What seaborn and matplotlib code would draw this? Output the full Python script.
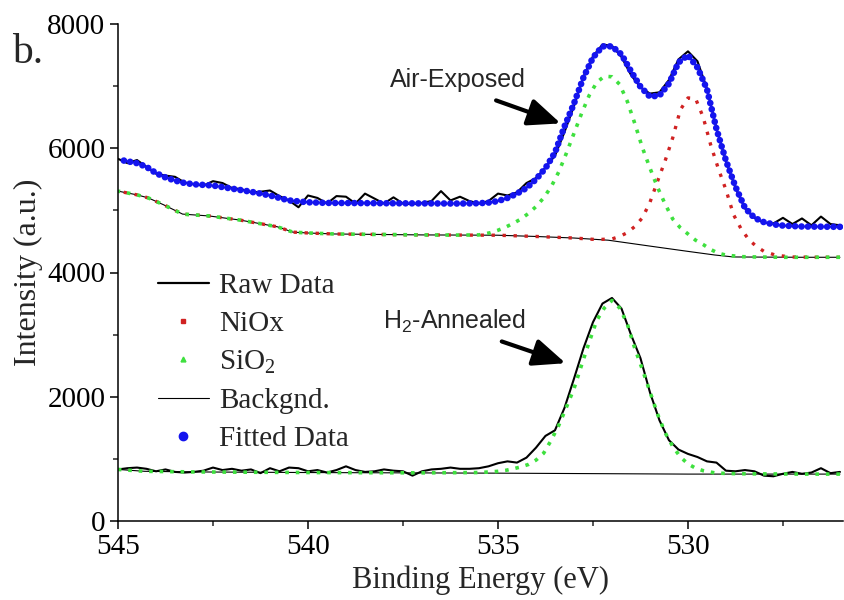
import matplotlib
matplotlib.use("Agg")
import matplotlib.pyplot as plt
import seaborn as sns
from matplotlib.lines import Line2D
from matplotlib.ticker import MultipleLocator

sns.set_theme(style="ticks")
plt.rcParams["font.family"] = ["Liberation Serif", "DejaVu Serif"]
plt.rcParams["mathtext.fontset"] = "stix"

# --- data (binding energy in eV, intensity in a.u.) ---
raw_ev = [545.0, 544.75, 544.5, 544.25, 544.0, 543.75, 543.5, 543.25, 543.0, 542.75,
          542.5, 542.25, 542.0, 541.75, 541.5, 541.25, 541.0, 540.75, 540.5, 540.25,
          540.0, 539.75, 539.5, 539.25, 539.0, 538.75, 538.5, 538.25, 538.0, 537.75,
          537.5, 537.25, 537.0, 536.75, 536.5, 536.25, 536.0, 535.75, 535.5, 535.25,
          535.0, 534.75, 534.5, 534.25, 534.0, 533.75, 533.5, 533.25, 533.0, 532.75,
          532.5, 532.25, 532.0, 531.75, 531.5, 531.25, 531.0, 530.75, 530.5, 530.25,
          530.0, 529.75, 529.5, 529.25, 529.0, 528.75, 528.5, 528.25, 528.0, 527.75,
          527.5, 527.25, 527.0, 526.75, 526.5, 526.25, 526.0]

air_raw = [5830, 5760, 5810, 5700, 5590, 5560, 5540, 5450, 5420, 5400,
           5470, 5440, 5360, 5340, 5290, 5300, 5320, 5230, 5160, 5050,
           5240, 5200, 5110, 5230, 5220, 5110, 5270, 5190, 5110, 5210,
           5110, 5100, 5120, 5150, 5310, 5160, 5220, 5150, 5110, 5150,
           5270, 5240, 5290, 5440, 5520, 5690, 5880, 6260, 6680, 7150,
           7480, 7670, 7650, 7470, 7180, 6980, 6880, 6900, 7100, 7430,
           7560, 7400, 6960, 6320, 5790, 5360, 5030, 4880, 4800, 4790,
           4880, 4780, 4870, 4760, 4900, 4780, 4760]

h2_raw = [830, 850, 860, 840, 800, 830, 790, 780, 790, 810,
          860, 820, 840, 810, 830, 770, 850, 800, 860, 850,
          800, 820, 780, 820, 880, 820, 790, 800, 830, 810,
          800, 730, 800, 830, 840, 860, 840, 840, 850, 880,
          930, 960, 940, 1020, 1180, 1370, 1460, 1820, 2290, 2780,
          3200, 3500, 3590, 3420, 3000, 2620, 2070, 1620, 1300, 1150,
          1080, 1030, 960, 940, 810, 800, 820, 800, 730, 720,
          760, 790, 760, 780, 850, 770, 790]

fit_ev = [545.0, 544.75, 544.5, 544.25, 544.0, 543.75, 543.5, 543.25, 543.0, 542.5,
          542.0, 541.5, 541.0, 540.5, 540.0, 539.5, 538.0, 536.0, 535.5, 535.25,
          535.0, 534.75, 534.5, 534.25, 534.0, 533.75, 533.5, 533.25, 533.0, 532.75,
          532.5, 532.25, 532.0, 531.75, 531.5, 531.25, 531.0, 530.75, 530.5, 530.25,
          530.0, 529.75, 529.5, 529.25, 529.0, 528.75, 528.5, 528.25, 528.0, 527.75,
          527.5, 527.0, 526.0]
air_fit = [5820, 5790, 5760, 5700, 5600, 5530, 5480, 5440, 5420, 5400,
           5350, 5300, 5240, 5160, 5130, 5120, 5115, 5110, 5115, 5125,
           5150, 5200, 5270, 5360, 5500, 5680, 5930, 6350, 6720, 7140,
           7460, 7640, 7640, 7510, 7240, 6990, 6830, 6850, 7040, 7380,
           7500, 7300, 6950, 6310, 5800, 5380, 5040, 4880, 4810, 4775,
           4755, 4740, 4735]

bg_air_ev = [545.0, 544.5, 544.2, 543.8, 543.3, 542.6, 541.8, 541.2, 540.8, 540.4,
             540.0, 539.3, 537.0, 535.0, 534.0, 533.0, 532.1, 531.0, 530.0, 529.3,
             528.8, 527.0, 526.0]
bg_air = [5310, 5250, 5200, 5090, 4940, 4910, 4845, 4780, 4735, 4650,
          4636, 4620, 4605, 4600, 4580, 4555, 4520, 4425, 4340, 4282,
          4250, 4245, 4245]

niox_ev = [545.0, 544.5, 544.2, 543.8, 543.3, 542.6, 541.8, 541.2, 540.8, 540.4,
           540.0, 539.3, 537.0, 535.0, 534.0, 533.0, 532.4, 532.0, 531.8, 531.6,
           531.4, 531.2, 531.0, 530.8, 530.6, 530.4, 530.2, 530.0, 529.8, 529.6,
           529.4, 529.2, 529.0, 528.8, 528.6, 528.4, 528.2, 528.0, 527.7, 527.3,
           526.5, 526.0]
niox_air = [5310, 5250, 5200, 5090, 4940, 4910, 4845, 4780, 4735, 4650,
            4636, 4620, 4605, 4600, 4580, 4555, 4530, 4540, 4580, 4640,
            4740, 4880, 5130, 5470, 5800, 6170, 6620, 6810, 6800, 6500,
            6050, 5670, 5330, 4930, 4700, 4530, 4420, 4340, 4280, 4250,
            4245, 4245]

sio_ev = [545.0, 544.5, 544.2, 543.8, 543.3, 542.6, 541.8, 541.2, 540.8, 540.4,
          540.0, 539.3, 537.0, 536.0, 535.5, 535.2, 535.0, 534.8, 534.6, 534.4,
          534.2, 534.0, 533.8, 533.6, 533.4, 533.2, 533.0, 532.8, 532.6, 532.4,
          532.2, 532.0, 531.8, 531.6, 531.4, 531.2, 531.0, 530.8, 530.6, 530.4,
          530.2, 530.0, 529.8, 529.6, 529.4, 529.2, 529.0, 528.6, 528.2, 527.5,
          526.0]
sio_air = [5310, 5250, 5200, 5090, 4940, 4910, 4845, 4780, 4735, 4650,
           4636, 4620, 4605, 4602, 4605, 4640, 4680, 4730, 4790, 4860,
           4950, 5060, 5200, 5380, 5620, 5920, 6240, 6560, 6850, 7060,
           7160, 7150, 7030, 6760, 6400, 6010, 5680, 5370, 5100, 4860,
           4720, 4620, 4520, 4450, 4370, 4310, 4280, 4255, 4250, 4245,
           4245]

sio_h2_ev = [545.0, 544.3, 543.0, 540.0, 537.0, 535.5, 535.2, 535.0, 534.8, 534.6,
             534.4, 534.2, 534.0, 533.8, 533.6, 533.4, 533.2, 533.0, 532.8, 532.6,
             532.4, 532.2, 532.0, 531.8, 531.6, 531.4, 531.2, 531.0, 530.8, 530.6,
             530.4, 530.2, 530.0, 529.8, 529.6, 529.3, 529.0, 528.5, 527.0, 526.0]
sio_h2 = [830, 800, 790, 780, 775, 780, 790, 800, 815, 840,
          870, 910, 980, 1090, 1300, 1540, 1830, 2130, 2510, 2880,
          3230, 3430, 3550, 3430, 3180, 2780, 2440, 2080, 1720, 1420,
          1200, 1030, 920, 850, 810, 775, 765, 760, 755, 755]

bg_h2_ev = [545.0, 544.3, 543.0, 540.0, 535.0, 530.0, 526.0]
bg_h2 = [830, 800, 790, 780, 770, 755, 755]

blue, red, green = "#1414ee", "#d02222", "#3ee03e"

fig = plt.figure(figsize=(8.44, 6.0), dpi=100)
ax = fig.add_axes([118 / 844, 79 / 600, 725 / 844, 497 / 600])

common = dict(ax=ax, estimator=None, errorbar=None, legend=False)

# raw spectra
sns.lineplot(x=raw_ev, y=air_raw, color="black", lw=1.5, **common)
sns.lineplot(x=raw_ev, y=h2_raw, color="black", lw=1.5, **common)

# backgrounds
sns.lineplot(x=bg_air_ev, y=bg_air, color="black", lw=0.8, **common)
sns.lineplot(x=bg_h2_ev, y=bg_h2, color="black", lw=0.8, **common)

# fitted components (dotted)
sns.lineplot(x=niox_ev, y=niox_air, color=red, lw=2.4,
             linestyle=(0, (1, 2.3)), **common)
sns.lineplot(x=sio_ev, y=sio_air, color=green, lw=2.6,
             linestyle=(0, (1, 1.9)), **common)
sns.lineplot(x=sio_h2_ev, y=sio_h2, color=green, lw=2.6,
             linestyle=(0, (1, 1.9)), **common)

# fitted envelope (big blue dots)
sns.lineplot(x=fit_ev, y=air_fit, color=blue, lw=4.8,
             linestyle=(0, (0.01, 0.95)), dash_capstyle="round", **common)

ax.set_xlim(545, 525.92)
ax.set_ylim(0, 8000)
ax.xaxis.set_major_locator(MultipleLocator(5))
ax.xaxis.set_minor_locator(MultipleLocator(2.5))
ax.yaxis.set_major_locator(MultipleLocator(2000))
ax.yaxis.set_minor_locator(MultipleLocator(1000))
ax.tick_params(which="major", direction="out", length=6, width=1.1,
               labelsize=21, pad=3, colors="black")
ax.tick_params(which="minor", direction="out", length=3.5, width=1.1)
for side in ["top", "right"]:
    ax.spines[side].set_visible(False)
for side in ["left", "bottom"]:
    ax.spines[side].set_linewidth(1.1)
    ax.spines[side].set_color("black")

ax.set_xlabel("Binding Energy (eV)", fontsize=22, labelpad=4)
ax.set_ylabel("Intensity (a.u.)", fontsize=23, labelpad=3)

fig.text(0.014, 0.895, "b.", fontsize=30, va="baseline")

# annotations
sans = ["Liberation Sans", "DejaVu Sans"]
ax.text(536.05, 7100, "Air-Exposed", fontsize=18, family=sans,
        ha="center", va="center")
ax.annotate("", xy=(533.35, 6400), xytext=(535.05, 6770),
            arrowprops=dict(arrowstyle="-|>,head_length=0.9,head_width=0.38",
                            lw=3, color="black", mutation_scale=22,
                            shrinkA=0, shrinkB=0))
ax.text(536.15, 3220, r"H$\mathregular{_2}$-Annealed", fontsize=18, family=sans,
        ha="center", va="center")
ax.annotate("", xy=(533.22, 2540), xytext=(534.9, 2890),
            arrowprops=dict(arrowstyle="-|>,head_length=0.9,head_width=0.38",
                            lw=3, color="black", mutation_scale=22,
                            shrinkA=0, shrinkB=0))

handles = [
    Line2D([], [], color="black", lw=1.6),
    Line2D([], [], color=red, marker="s", ms=2.5, ls="none"),
    Line2D([], [], color=green, marker="^", ms=3.5, ls="none"),
    Line2D([], [], color="black", lw=0.8),
    Line2D([], [], color=blue, marker="o", ms=6, ls="none"),
]
labels = ["Raw Data", "NiOx", r"SiO$\mathregular{_2}$", "Backgnd.", "Fitted Data"]
ax.legend(handles, labels, loc="upper left", bbox_to_anchor=(0.055, 0.5),
          frameon=False, fontsize=21, handlelength=1.75, handletextpad=0.35,
          labelspacing=0.4, borderpad=0, borderaxespad=0)

fig.savefig("out.png", dpi=100)
